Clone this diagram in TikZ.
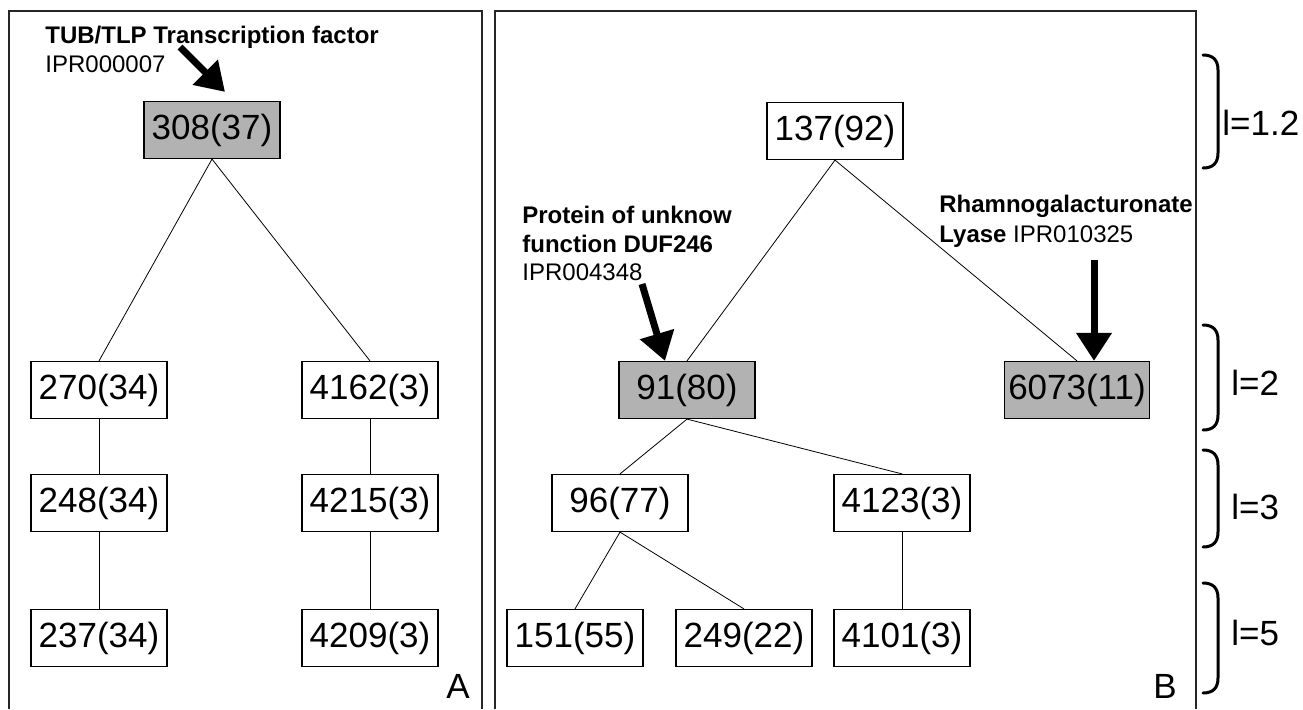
\documentclass[tikz,border=0pt]{standalone}
\usepackage{fontspec}
\setmainfont{Liberation Sans}
\usetikzlibrary{arrows.meta}

\tikzset{
  clus/.style={draw, line width=0.6pt, minimum width=68pt, minimum height=28.5pt,
    inner xsep=2pt, font=\fontsize{17.5}{20}\selectfont},
  hit/.style={clus, fill=black!30},
  note/.style={anchor=base west, inner sep=0pt, font=\fontsize{12}{14}\selectfont},
  bigarrow/.style={line width=3.5pt, -{Triangle[width=17pt,length=14pt]}},
  lvl/.style={anchor=west, inner sep=0pt, font=\fontsize{17.5}{20}\selectfont},
  lbrace/.style={line width=1.5pt, line cap=round},
  panel/.style={line width=0.7pt, black!85}
}

\begin{document}
\begin{tikzpicture}[x=0.5pt, y=-0.5pt]
    \useasboundingbox (0,0) rectangle (1303,709);
    % the two panels
    \draw[panel] (9,709) -- (9,11) -- (482,11) -- (482,709);
    \draw[panel] (495,709) -- (495,11) -- (1196,11) -- (1196,709);

    % panel A
    \node[hit]  (a308)  at (212,130) {308(37)};
    \node[clus] (a270)  at (99,390)  {270(34)};
    \node[clus] (a4162) at (370,390) {4162(3)};
    \node[clus] (a248)  at (99,503)  {248(34)};
    \node[clus] (a4215) at (370,503) {4215(3)};
    \node[clus] (a237)  at (99,638)  {237(34)};
    \node[clus] (a4209) at (370,638) {4209(3)};
    \draw (a308.south) -- (a270.north);
    \draw (a308.south) -- (a4162.north);
    \draw (a270) -- (a248);
    \draw (a248) -- (a237);
    \draw (a4162) -- (a4215);
    \draw (a4215) -- (a4209);
    \node[lvl] (tagA) at (446,686) {A};

    \node[note] (tubname) at (45,43) {\bfseries TUB/TLP Transcription factor};
    \node[note] (tubipr)  at (45,72) {IPR000007};
    \coordinate (tubtail) at (180,47);
    \draw[bigarrow] (tubtail) -- ([xshift=6.5pt,yshift=4.5pt]a308.north);

    % panel B
    \node[clus] (b137)  at (835,131)  {137(92)};
    \node[hit]  (b91)   at (687,390)  {91(80)};
    \node[hit]  (b6073) at (1077,390) {6073(11)};
    \node[clus] (b96)   at (620,503)  {96(77)};
    \node[clus] (b4123) at (902,503)  {4123(3)};
    \node[clus] (b151)  at (575,638)  {151(55)};
    \node[clus] (b249)  at (744,638)  {249(22)};
    \node[clus] (b4101) at (902,638)  {4101(3)};
    \draw (b137.south) -- (b91.north);
    \draw (b137.south) -- (b6073.north);
    \draw (b91.south) -- (b96.north);
    \draw (b91.south) -- (b4123.north);
    \draw (b96.south) -- (b151.north);
    \draw (b96.south) -- (b249.north);
    \draw (b4123) -- (b4101);
    \node[lvl] (tagB) at (1153,686) {B};

    \node[note] (dufname1) at (522,223) {\bfseries Protein of unknow};
    \node[note] (dufname2) at (522,252) {\bfseries function DUF246};
    \node[note] (dufipr)   at (522,280) {IPR004348};
    \coordinate (duftail) at (642,284);
    \draw[bigarrow] (duftail) -- ([xshift=-11pt]b91.north);

    \node[note] (rglname) at (939,212) {\bfseries Rhamnogalacturonate};
    \node[note] (rglipr)  at (939,242) {\bfseries Lyase\mdseries{} IPR010325};
    \coordinate (rgltail) at (1094,260);
    \draw[bigarrow] (rgltail) -- ([xshift=8.5pt]b6073.north);

    % levels
    \draw[lbrace] (1203,55) .. controls (1213,55) and (1218,60) .. (1218,70) -- (1218,153) .. controls (1218,163) and (1213,168) .. (1203,168);
    \draw[lbrace] (1203,325) .. controls (1213,325) and (1218,330) .. (1218,340) -- (1218,415) .. controls (1218,425) and (1213,430) .. (1203,430);
    \draw[lbrace] (1203,450) .. controls (1213,450) and (1218,455) .. (1218,465) -- (1218,532) .. controls (1218,542) and (1213,547) .. (1203,547);
    \draw[lbrace] (1203,583) .. controls (1213,583) and (1218,588) .. (1218,598) -- (1218,678) .. controls (1218,688) and (1213,693) .. (1203,693);
    \node[lvl] (lev12) at (1222,123) {l=1.2};
    \node[lvl] (lev2)  at (1231,383) {l=2};
    \node[lvl] (lev3)  at (1231,507) {l=3};
    \node[lvl] (lev5)  at (1231,633) {l=5};
\end{tikzpicture}
\end{document}
